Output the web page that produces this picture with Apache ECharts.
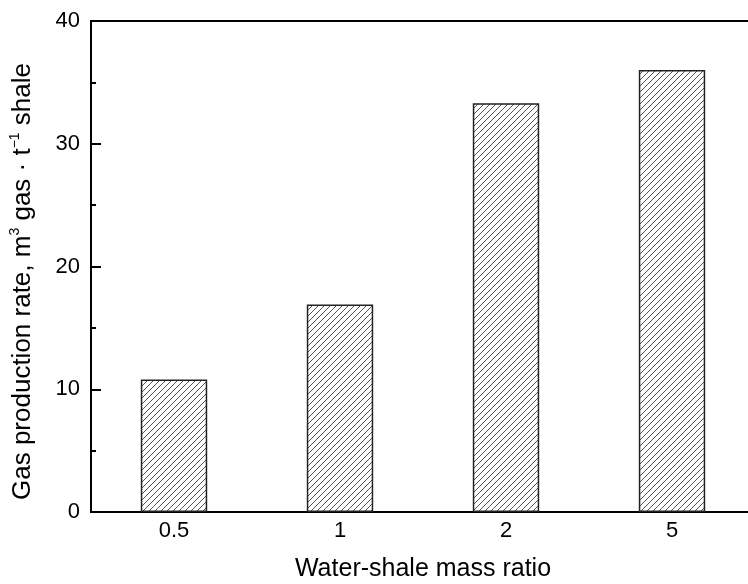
<!DOCTYPE html>
<html>
<head>
<meta charset="utf-8">
<script src="https://cdn.jsdelivr.net/npm/echarts@6/dist/echarts.min.js"></script>
<style>
  html, body { margin: 0; padding: 0; background: #fff; }
  #chartArea { width: 748px; height: 584px; }
</style>
</head>
<body>
<div id="chartArea"></div>
<script>
var ratios = ['0.5', '1', '2', '5'];
var gasRates = [10.8, 16.9, 33.3, 36.0];
var yTicks = [0, 10, 20, 30, 40];

var fontFamily = 'Arial, "Liberation Sans", sans-serif';

// diagonal hatch tile for the bars
function makeHatch() {
    var size = 6;
    var c = document.createElement('canvas');
    c.width = size;
    c.height = size;
    var ctx = c.getContext('2d');
    ctx.fillStyle = '#ffffff';
    ctx.fillRect(0, 0, size, size);
    ctx.strokeStyle = '#555555';
    ctx.lineWidth = 1;
    ctx.beginPath();
    ctx.moveTo(-1, size + 1);
    ctx.lineTo(size + 1, -1);
    ctx.moveTo(-1, 1);
    ctx.lineTo(1, -1);
    ctx.moveTo(size - 1, size + 1);
    ctx.lineTo(size + 1, size - 1);
    ctx.stroke();
    return c;
}

var labelStyle = {
    color: '#000',
    fontSize: 22,
    fontFamily: fontFamily
};

var myChart = echarts.init(document.getElementById('chartArea'));

myChart.setOption({
    animation: false,
    grid: {
        left: 91,
        top: 21,
        bottom: 72,
        right: -7,
        show: true,
        borderColor: '#000',
        borderWidth: 2,
        containLabel: false,
        outerBoundsMode: 'none'
    },
    xAxis: [{
        type: 'category',
        data: ratios,
        position: 'bottom',
        axisLine: { lineStyle: { color: '#000', width: 2 } },
        axisTick: { inside: true, alignWithLabel: true, length: 8, lineStyle: { color: '#000', width: 2 } },
        axisLabel: Object.assign({ margin: 8 }, labelStyle),
        name: 'Water-shale mass ratio',
        nameLocation: 'middle',
        nameGap: 45,
        nameTextStyle: { color: '#000', fontSize: 25, fontFamily: fontFamily }
    }, {
        type: 'category',
        data: ratios,
        position: 'bottom',
        axisLine: { show: false },
        axisTick: { inside: true, length: 5, lineStyle: { color: '#000', width: 2 } },
        axisLabel: { show: false }
    }],
    yAxis: {
        type: 'value',
        min: yTicks[0],
        max: yTicks[yTicks.length - 1],
        interval: 10,
        axisLine: { show: true, lineStyle: { color: '#000', width: 2 } },
        axisTick: { show: true, inside: true, length: 10, lineStyle: { color: '#000', width: 2 } },
        minorTick: { show: true, splitNumber: 2, length: 5, lineStyle: { color: '#000', width: 2 } },
        splitLine: { show: false },
        axisLabel: Object.assign({ margin: 11 }, labelStyle),
        name: '{a|Gas production rate, m}{s|3}{a| gas · t}{s|−1}{a| shale}',
        nameLocation: 'middle',
        nameGap: 55,
        nameTextStyle: {
            color: '#000',
            fontFamily: fontFamily,
            padding: [0, 30, 0, 0],
            rich: {
                a: { fontSize: 26, fontFamily: fontFamily, color: '#000', lineHeight: 28, verticalAlign: 'bottom' },
                s: { fontSize: 14, fontFamily: fontFamily, color: '#000', lineHeight: 28, verticalAlign: 'top' }
            }
        }
    },
    series: [{
        type: 'bar',
        data: gasRates,
        barWidth: '40%',
        itemStyle: {
            color: { image: makeHatch(), repeat: 'repeat' },
            borderColor: '#222',
            borderWidth: 1.5
        }
    }]
});
</script>
</body>
</html>
